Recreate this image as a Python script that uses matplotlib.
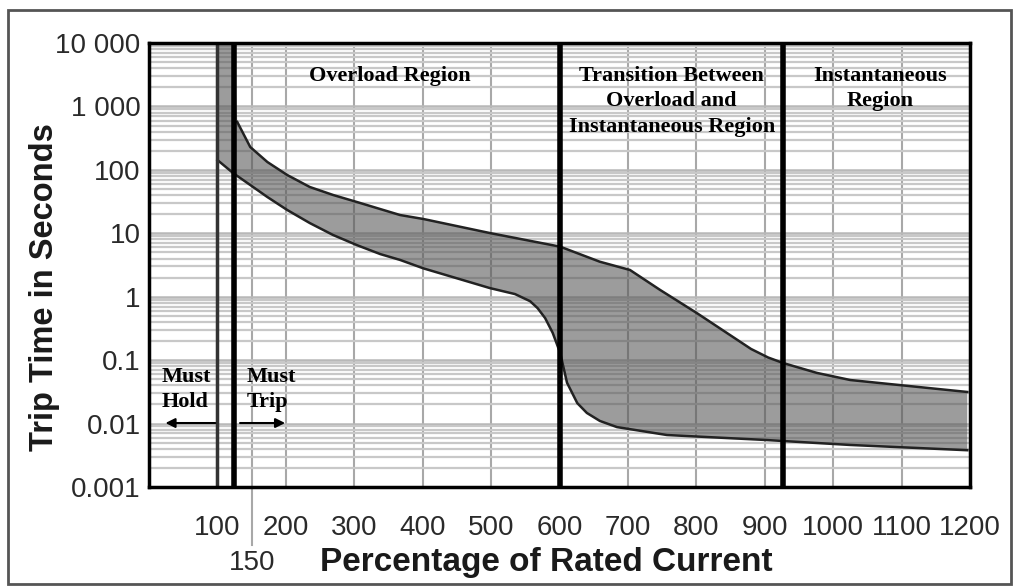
import matplotlib
matplotlib.use("Agg")
import matplotlib.pyplot as plt
from matplotlib.patches import Rectangle
from matplotlib.ticker import FixedLocator, NullFormatter
import matplotlib.transforms as mtransforms
import numpy as np

# ---- data ----
upper_x = [100, 124, 129, 148, 173, 202, 235, 269, 304, 338, 367, 401, 498, 601, 659, 703, 747, 801, 854, 880, 905, 927, 976, 1025, 1196]
upper_y = [10000, 10000, 569, 229, 133, 83, 53.7, 40.2, 31.1, 24.1, 19.4, 16.8, 10.1, 6.15, 3.56, 2.64, 1.28, 0.55, 0.23, 0.15, 0.11, 0.090, 0.063, 0.0486, 0.0315]

lower_x = [100, 123, 148, 173, 202, 235, 269, 304, 338, 367, 401, 498, 535, 557, 568, 579, 590, 601, 611, 626, 640, 659, 684, 757, 903, 1025, 1196]
lower_y = [143, 89, 57.7, 37.3, 23.3, 14.5, 9.4, 6.5, 4.7, 3.8, 2.8, 1.37, 1.1, 0.85, 0.66, 0.46, 0.27, 0.13, 0.044, 0.021, 0.0147, 0.011, 0.0088, 0.0066, 0.0055, 0.0046, 0.0038]

x_ticks = [100, 200, 300, 400, 500, 600, 700, 800, 900, 1000, 1100, 1200]
x_tick_labels = [str(v) for v in x_ticks]
x_extra_tick = [150]
y_ticks = [0.001, 0.01, 0.1, 1, 10, 100, 1000, 10000]
y_tick_labels = ["0.001", "0.01", "0.1", "1", "10", "100", "1 000", "10 000"]

boundary_lines = [100, 124, 600, 926]
region_labels = [
    (352, "Overload Region"),
    (764, "Transition Between\nOverload and\nInstantaneous Region"),
    (1068, "Instantaneous\nRegion"),
]

fig = plt.figure(figsize=(10.13, 5.86), dpi=100)
ax = fig.add_axes([149/1013, 1-487/586, 821/1013, 444/586])
ax.set_yscale("log")
ax.set_xlim(0, 1200)
ax.set_ylim(0.001, 10000)

# ticks & grid
ax.set_xticks(x_ticks)
ax.set_xticklabels(x_tick_labels)
ax.xaxis.set_minor_locator(FixedLocator(x_extra_tick))
ax.xaxis.set_minor_formatter(plt.FixedFormatter([str(v) for v in x_extra_tick]))
ax.set_yticks(y_ticks)
ax.set_yticklabels(y_tick_labels)
ax.yaxis.set_minor_locator(matplotlib.ticker.LogLocator(base=10, subs=range(2, 10), numticks=100))
ax.yaxis.set_minor_formatter(NullFormatter())
ax.grid(True, which="major", axis="y", color="#b8b8b8", lw=1.8, zorder=0)
ax.grid(True, which="minor", axis="y", color="#c8c8c8", lw=1.6, zorder=0)
ax.grid(True, which="major", axis="x", color="#a8a8a8", lw=1.5, zorder=0)
ax.set_axisbelow(True)

# 150 gridline extending below the axes
trans = mtransforms.blended_transform_factory(ax.transData, ax.transAxes)
ax.plot([150, 150], [-0.13, 1], transform=trans, color="#a8a8a8", lw=1.5, clip_on=False, zorder=0.5)

# band fill
ux = np.array(upper_x, float); uy = np.array(upper_y, float)
lx = np.array(lower_x, float); ly = np.array(lower_y, float)
poly_x = np.concatenate([ux, lx[::-1]])
poly_y = np.concatenate([uy, ly[::-1]])
ax.fill(poly_x, poly_y, color="#555555", alpha=0.58, lw=0, zorder=2)
ax.plot(ux[2:], uy[2:], color="#222222", lw=1.8, zorder=3, solid_joinstyle="round")
ax.plot(lx, ly, color="#222222", lw=1.8, zorder=3, solid_joinstyle="round")

# boundary lines
ax.axvline(boundary_lines[0], color="#333333", lw=2.5, zorder=4)
for b in boundary_lines[1:]:
    ax.axvline(b, color="black", lw=4, zorder=4)

# region labels
serif = dict(family="Liberation Serif", weight="bold", fontsize=16, color="black")
for xr, txt in region_labels:
    ax.text(xr, 4340, txt, ha="center", va="top", linespacing=1.36, **serif)

ax.text(19, 0.078, "Must\nHold", ha="left", va="top", linespacing=1.36, **serif)
ax.text(143, 0.078, "Must\nTrip", ha="left", va="top", linespacing=1.36, **serif)

ax.annotate("", xy=(20, 0.0102), xytext=(101, 0.0102),
            arrowprops=dict(arrowstyle="-|>", color="black", lw=1.5, mutation_scale=14), zorder=5)
ax.annotate("", xy=(203, 0.0102), xytext=(129, 0.0102),
            arrowprops=dict(arrowstyle="-|>", color="black", lw=1.5, mutation_scale=14), zorder=5)

# tick styling
ax.tick_params(axis="x", which="major", length=0, pad=20, labelsize=20, labelcolor="#2a2a2a")
ax.tick_params(axis="x", which="minor", length=0, pad=45, labelsize=20, labelcolor="#2a2a2a")
ax.tick_params(axis="y", which="both", length=0, pad=6, labelsize=20, labelcolor="#2a2a2a")
for lab in ax.get_xticklabels(which="both") + ax.get_yticklabels():
    lab.set_family("Liberation Sans")

for s in ax.spines.values():
    s.set_color("black")
    s.set_linewidth(2.5)
    s.set_zorder(6)

ax.set_xlabel("Percentage of Rated Current", family="Liberation Sans", weight="bold",
              fontsize=24, color="#1a1a1a", va="center")
ax.xaxis.set_label_coords((546-149)/821, -(563-487)/444)
ax.set_ylabel("Trip Time in Seconds", family="Liberation Sans", weight="bold",
              fontsize=23.5, color="#1a1a1a", va="center")
ax.yaxis.set_label_coords(-(149-44)/821, (487-287)/444)

# outer frame
fig.patches.append(Rectangle((8/1013, 1-584/586), 1003/1013, 574/586, transform=fig.transFigure,
                             fill=False, edgecolor="#555555", lw=2))

fig.savefig("out.png", dpi=100)
